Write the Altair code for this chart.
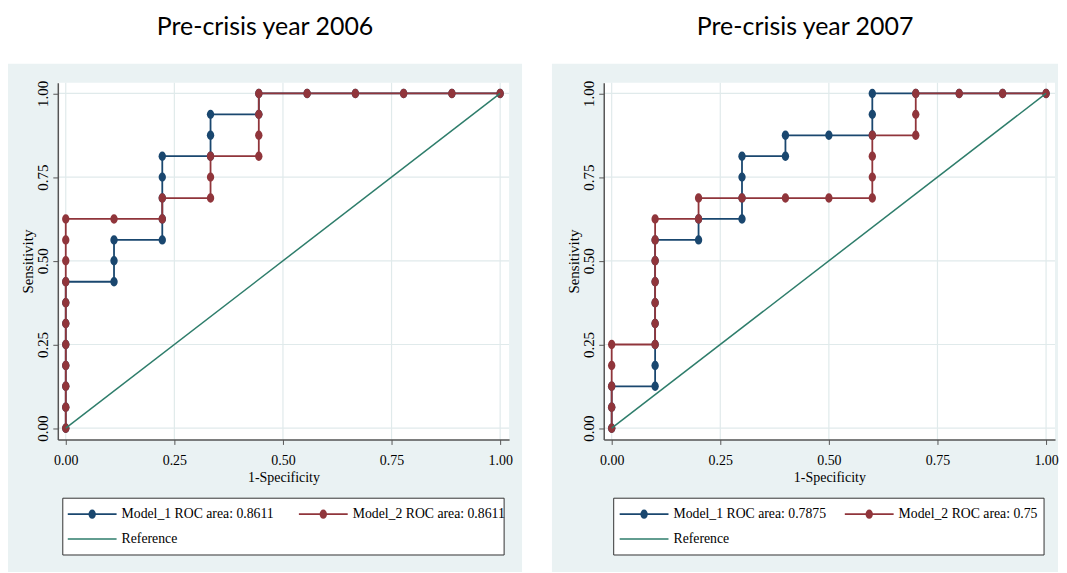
import altair as alt
import pandas as pd

# ---------------- data ----------------
panel_titles = ["Pre-crisis year 2006", "Pre-crisis year 2007"]
tick_values = [0.0, 0.25, 0.5, 0.75, 1.0]

# 2006 panel
m1_2006_x = [0, 0, 0, 0, 0, 0, 0, 0, 0.1111, 0.1111, 0.1111, 0.2222, 0.2222, 0.2222, 0.2222, 0.2222,
             0.3333, 0.3333, 0.3333, 0.4444, 0.4444, 0.5556, 0.6667, 0.7778, 0.8889, 1.0]
m1_2006_y = [0, 0.0625, 0.125, 0.1875, 0.25, 0.3125, 0.375, 0.4375, 0.4375, 0.5, 0.5625, 0.5625, 0.625,
             0.6875, 0.75, 0.8125, 0.8125, 0.875, 0.9375, 0.9375, 1.0, 1.0, 1.0, 1.0, 1.0, 1.0]
m2_2006_x = [0, 0, 0, 0, 0, 0, 0, 0, 0, 0, 0, 0.1111, 0.2222, 0.2222, 0.3333, 0.3333, 0.3333,
             0.4444, 0.4444, 0.4444, 0.4444, 0.5556, 0.6667, 0.7778, 0.8889, 1.0]
m2_2006_y = [0, 0.0625, 0.125, 0.1875, 0.25, 0.3125, 0.375, 0.4375, 0.5, 0.5625, 0.625, 0.625, 0.625,
             0.6875, 0.6875, 0.75, 0.8125, 0.8125, 0.875, 0.9375, 1.0, 1.0, 1.0, 1.0, 1.0, 1.0]

# 2007 panel
m1_2007_x = [0, 0, 0, 0.1, 0.1, 0.1, 0.1, 0.1, 0.1, 0.1, 0.1, 0.2, 0.2, 0.3, 0.3, 0.3, 0.3,
             0.4, 0.4, 0.5, 0.6, 0.6, 0.6, 0.7, 0.8, 0.9, 1.0]
m1_2007_y = [0, 0.0625, 0.125, 0.125, 0.1875, 0.25, 0.3125, 0.375, 0.4375, 0.5, 0.5625, 0.5625, 0.625,
             0.625, 0.6875, 0.75, 0.8125, 0.8125, 0.875, 0.875, 0.875, 0.9375, 1.0, 1.0, 1.0, 1.0, 1.0]
m2_2007_x = [0, 0, 0, 0, 0, 0.1, 0.1, 0.1, 0.1, 0.1, 0.1, 0.1, 0.2, 0.2, 0.3, 0.4, 0.5, 0.6,
             0.6, 0.6, 0.6, 0.7, 0.7, 0.7, 0.8, 0.9, 1.0]
m2_2007_y = [0, 0.0625, 0.125, 0.1875, 0.25, 0.25, 0.3125, 0.375, 0.4375, 0.5, 0.5625, 0.625, 0.625,
             0.6875, 0.6875, 0.6875, 0.6875, 0.6875, 0.75, 0.8125, 0.875, 0.875, 0.9375, 1.0, 1.0, 1.0, 1.0]

ref_x = [0.0, 1.0]
ref_y = [0.0, 1.0]

legend_2006 = ["Model_1 ROC area: 0.8611", "Model_2 ROC area: 0.8611", "Reference"]
legend_2007 = ["Model_1 ROC area: 0.7875", "Model_2 ROC area: 0.75", "Reference"]

# ---------------- style ----------------
BLUE = "#1A476F"
RED = "#90353B"
GREEN = "#2E7D6B"
PANEL_BG = "#EAF2F3"
GRID = "#E0EAEB"
AXIS_COL = "#555555"
SERIF = "Liberation Serif"
ELLIPSE = "M0.78,0A0.78,1 0 1 1 -0.78,0A0.78,1 0 1 1 0.78,0Z"

W, H = 453, 358
XDOM = [-0.0183, 1.0206]
YDOM = [-0.0336, 1.0318]


def xy_frame(xs, ys):
    return pd.DataFrame({"x": xs, "y": ys, "i": list(range(len(xs)))})


def panel(title, m1x, m1y, m2x, m2y, labels, bg_left, bg_right, box_left, box_w, item1_left):
    xsc = alt.Scale(domain=XDOM, nice=False, zero=False)
    ysc = alt.Scale(domain=YDOM, nice=False, zero=False)
    xaxis = alt.Axis(values=tick_values, format=".2f", title="1-Specificity", grid=False,
                     tickSize=5, tickColor=AXIS_COL, domainColor=AXIS_COL, domainWidth=1.5,
                     labelFont=SERIF, labelFontSize=14, labelColor="black", labelPadding=9,
                     labelFlush=False, labelOverlap=False,
                     titleFont=SERIF, titleFontSize=14, titleFontWeight="normal",
                     titleColor="black", titlePadding=3, zindex=1)
    yaxis = alt.Axis(values=tick_values, format=".2f", title="Sensitivity", grid=False,
                     tickSize=5, tickColor=AXIS_COL, domainColor=AXIS_COL, domainWidth=1.5,
                     labelFont=SERIF, labelFontSize=15, labelColor="black", labelPadding=2,
                     labelAngle=270, labelFlush=False, labelOverlap=False,
                     titleFont=SERIF, titleFontSize=15, titleFontWeight="normal",
                     titleColor="black", titlePadding=0, zindex=1)
    X = lambda f: alt.X(f, type="quantitative", scale=xsc, axis=xaxis)
    Y = lambda f: alt.Y(f, type="quantitative", scale=ysc, axis=yaxis)

    one = pd.DataFrame({"k": [0]})
    layers = []
    layers.append(alt.Chart(one).mark_rect(fill=PANEL_BG).encode(
        x=alt.value(bg_left), x2=alt.value(bg_right), y=alt.value(-19), y2=alt.value(H + 133)))
    layers.append(alt.Chart(one).mark_rect(fill="white").encode(
        x=alt.value(0), x2=alt.value(W), y=alt.value(0), y2=alt.value(H)))

    grid = pd.DataFrame({"t": tick_values})
    layers.append(alt.Chart(grid).mark_rule(color=GRID, strokeWidth=1.2).encode(x=X("t")))
    layers.append(alt.Chart(grid).mark_rule(color=GRID, strokeWidth=1.2).encode(y=Y("t")))

    for xs, ys, col in [(m1x, m1y, BLUE), (m2x, m2y, RED)]:
        d = xy_frame(xs, ys)
        layers.append(alt.Chart(d).mark_line(color=col, strokeWidth=1.8).encode(
            x=X("x"), y=Y("y"), order="i:Q"))
        layers.append(alt.Chart(d).mark_point(shape=ELLIPSE, filled=True, color=col, size=90,
                                              opacity=1).encode(x=X("x"), y=Y("y")))
    layers.append(alt.Chart(xy_frame(ref_x, ref_y)).mark_line(color=GREEN, strokeWidth=1.5).encode(
        x=X("x"), y=Y("y"), order="i:Q"))

    # legend box
    layers.append(alt.Chart(one).mark_rect(fill="white", stroke="#333333", strokeWidth=1).encode(
        x=alt.value(box_left), x2=alt.value(box_left + box_w), y=alt.value(417), y2=alt.value(474)))
    items = [(item1_left, 433, BLUE, True), (242, 433, RED, True), (item1_left, 458, GREEN, False)]
    for lab, (lx, ly, col, dot) in zip(labels, items):
        layers.append(alt.Chart(one).mark_rule(color=col, strokeWidth=1.6).encode(
            x=alt.value(lx), x2=alt.value(lx + 49), y=alt.value(ly)))
        if dot:
            layers.append(alt.Chart(one).mark_point(shape=ELLIPSE, filled=True, color=col, size=90,
                                                    opacity=1).encode(
                x=alt.value(lx + 24.5), y=alt.value(ly)))
        layers.append(alt.Chart(one).mark_text(align="left", baseline="middle", font=SERIF,
                                               fontSize=13.8, color="black", text=lab).encode(
            x=alt.value(lx + 54), y=alt.value(ly)))

    return alt.layer(*layers).properties(
        width=W, height=H,
        title=alt.TitleParams(title, font="Lato", fontSize=25, fontWeight="normal", color="black",
                              anchor="middle", frame="bounds", offset=24))


p1 = panel(panel_titles[0], m1_2006_x, m1_2006_y, m2_2006_x, m2_2006_y, legend_2006,
           -50, W + 13, 5, 443, 10)
p2 = panel(panel_titles[1], m1_2007_x, m1_2007_y, m2_2007_x, m2_2007_y, legend_2007,
           -52, W + 3, 10, 432, 16)

chart = alt.hconcat(p1, p2, spacing=30).properties(
    padding={"left": 0, "top": 6, "right": 0, "bottom": 0}
).configure(background="white").configure_view(stroke=None)

chart.save("out.html", embed_options={"renderer": "svg", "actions": False})
